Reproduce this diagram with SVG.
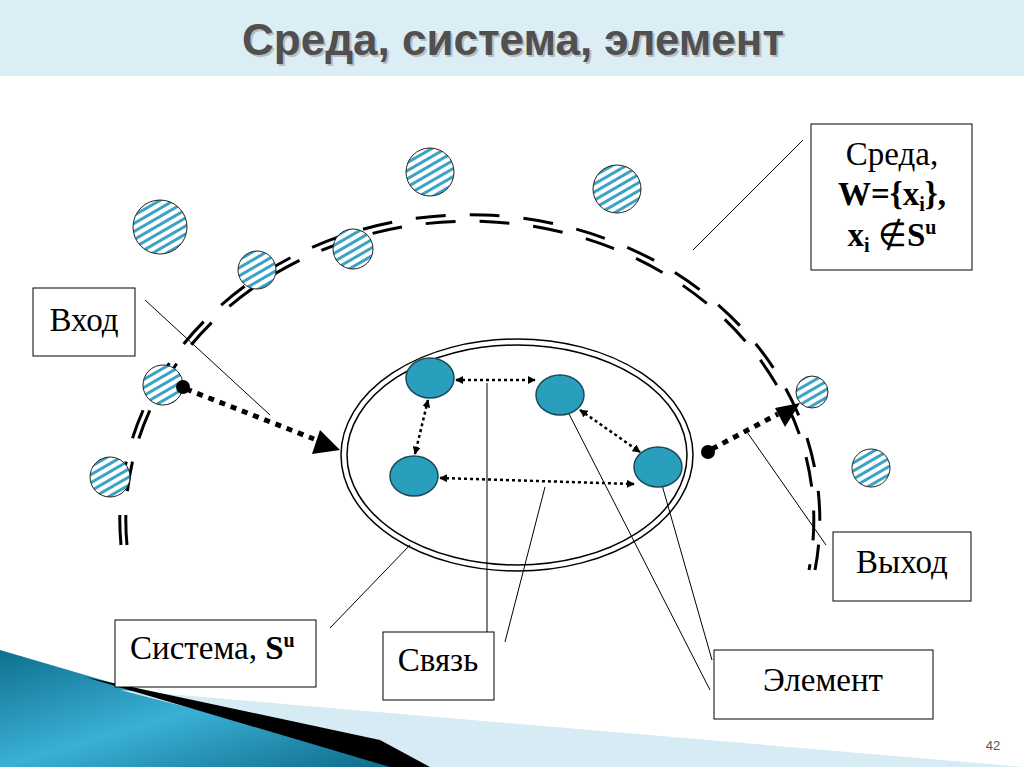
<svg xmlns="http://www.w3.org/2000/svg" width="1024" height="767" viewBox="0 0 1024 767">
<defs>
<pattern id="hatch" patternUnits="userSpaceOnUse" width="7" height="7" patternTransform="rotate(-30)">
<rect width="7" height="7" fill="#fff"/><rect width="7" height="3" fill="#3aa3c4"/>
</pattern>
<linearGradient id="bg" x1="0" y1="0" x2="1" y2="1"><stop offset="0" stop-color="#0f6f8e"/><stop offset="0.5" stop-color="#3ab0d6"/><stop offset="1" stop-color="#0c6a88"/></linearGradient>
<marker id="ah" viewBox="0 0 10 10" refX="9" refY="5" markerWidth="8" markerHeight="8" orient="auto-start-reverse" markerUnits="userSpaceOnUse"><path d="M0,0 L10,5 L0,10 z" fill="#000"/></marker>
</defs>
<style>
.h{fill:url(#hatch);stroke:#222;stroke-width:1}
.el{fill:#2a9fbd;stroke:#1a4a5a;stroke-width:1.5}
.box{fill:#fff;stroke:#000;stroke-width:1}
.t{font-family:"Liberation Serif",serif;font-size:33px;fill:#000}
.ln{stroke:#000;stroke-width:1;fill:none}
.dt{stroke:#000;stroke-width:2.5;stroke-dasharray:3 3;fill:none}
.big{stroke:#000;stroke-width:5;stroke-dasharray:6 6;fill:none}
.arc{fill:none;stroke:#000;stroke-width:3;stroke-dasharray:30 24}
</style>
<rect width="1024" height="767" fill="#fff"/>
<rect width="1024" height="76" fill="#dbeef5"/>
<text x="515" y="57" text-anchor="middle" font-family="Liberation Sans,sans-serif" font-weight="bold" font-size="44" fill="#bbb">Среда, система, элемент</text>
<text x="513" y="55" text-anchor="middle" font-family="Liberation Sans,sans-serif" font-weight="bold" font-size="44" fill="#505050">Среда, система, элемент</text>
<g id="deco">
<polygon points="0,650 400,767 0,767" fill="url(#bg)"/>
<polygon points="120,690 1024,767 420,767" fill="#d6ebf3"/>
<polygon points="85,677 380,740 430,767 390,767" fill="#000"/>
</g>
<g id="environment">
<path class="arc" d="M121,545 A350,305 0 1 1 815,570"/>
<path class="arc" d="M127,545 A344,299 0 1 1 809,570"/>
</g>
<g id="particles">
<circle class="h" cx="160" cy="227" r="27"/>
<circle class="h" cx="430" cy="172" r="24"/>
<circle class="h" cx="617" cy="189" r="24"/>
<circle class="h" cx="257" cy="270" r="19"/>
<circle class="h" cx="353" cy="249" r="20"/>
<circle class="h" cx="163" cy="385" r="20"/>
<circle class="h" cx="110" cy="477" r="20"/>
<circle class="h" cx="812" cy="392" r="16"/>
<circle class="h" cx="871" cy="468" r="19"/>
</g>
<g id="system">
<ellipse cx="517" cy="455" rx="176" ry="116" fill="none" stroke="#000" stroke-width="1.5"/>
<ellipse cx="517" cy="455" rx="170" ry="110" fill="none" stroke="#000" stroke-width="1.5"/>
</g>
<g id="connectors">
<line class="dt" x1="456" y1="380" x2="535" y2="380" marker-start="url(#ah)" marker-end="url(#ah)"/>
<line class="dt" x1="428" y1="400" x2="415" y2="454" marker-start="url(#ah)" marker-end="url(#ah)"/>
<line class="dt" x1="440" y1="478" x2="634" y2="484" marker-start="url(#ah)" marker-end="url(#ah)"/>
<line class="dt" x1="580" y1="410" x2="640" y2="452" marker-start="url(#ah)" marker-end="url(#ah)"/>
<circle cx="183" cy="387" r="7"/>
<line class="big" x1="186" y1="389" x2="314" y2="439"/>
<path d="M340,450 L312,454 L320,430 z"/>
<circle cx="708" cy="452" r="7"/>
<line class="big" x1="712" y1="449" x2="778" y2="414"/>
<path d="M800,403 L785,427 L775,408 z"/>
<line class="ln" x1="145" y1="300" x2="270" y2="415"/>
<line class="ln" x1="803" y1="140" x2="693" y2="250"/>
<line class="ln" x1="826" y1="545" x2="747" y2="432"/>
<line class="ln" x1="330" y1="628" x2="410" y2="545"/>
<line class="ln" x1="487" y1="632" x2="487" y2="383"/>
<line class="ln" x1="505" y1="642" x2="545" y2="487"/>
<line class="ln" x1="712" y1="660" x2="662" y2="485"/>
<line class="ln" x1="710" y1="690" x2="567" y2="410"/>
</g>
<g id="elements">
<ellipse class="el" cx="430" cy="378" rx="24" ry="20"/>
<ellipse class="el" cx="560" cy="395" rx="24" ry="20"/>
<ellipse class="el" cx="414" cy="476" rx="24" ry="20"/>
<ellipse class="el" cx="658" cy="467" rx="24" ry="20"/>
</g>
<g id="vhod"><rect class="box" x="33" y="288" width="102" height="68"/><text class="t" x="84" y="331" text-anchor="middle">Вход</text></g>
<g id="sreda"><rect class="box" x="811" y="124" width="161" height="146"/>
<text class="t" x="892" y="165" text-anchor="middle">Среда,</text>
<text class="t" x="892" y="205" text-anchor="middle" font-weight="bold">W={x<tspan font-size="20" dy="6">i</tspan><tspan dy="-6">},</tspan></text>
<text class="t" x="892" y="246" text-anchor="middle" font-weight="bold">x<tspan font-size="20" dy="6">i</tspan><tspan dy="-6" font-weight="normal"> ∉</tspan><tspan>S</tspan><tspan font-size="20" dy="-12">u</tspan></text></g>
<g id="vyhod"><rect class="box" x="833" y="532" width="138" height="69"/><text class="t" x="902" y="573" text-anchor="middle">Выход</text></g>
<g id="sistema"><rect class="box" x="115" y="620" width="201" height="67"/><text class="t" x="130" y="659">Система, <tspan font-weight="bold">S</tspan><tspan font-weight="bold" font-size="20" dy="-12">u</tspan></text></g>
<g id="svyaz"><rect class="box" x="383" y="632" width="111" height="68"/><text class="t" x="438" y="671" text-anchor="middle">Связь</text></g>
<g id="element"><rect class="box" x="714" y="650" width="219" height="69"/><text class="t" x="823" y="691" text-anchor="middle">Элемент</text></g>
<text x="993" y="750" font-family="Liberation Sans,sans-serif" font-size="13" fill="#555" text-anchor="middle">42</text>
</svg>
